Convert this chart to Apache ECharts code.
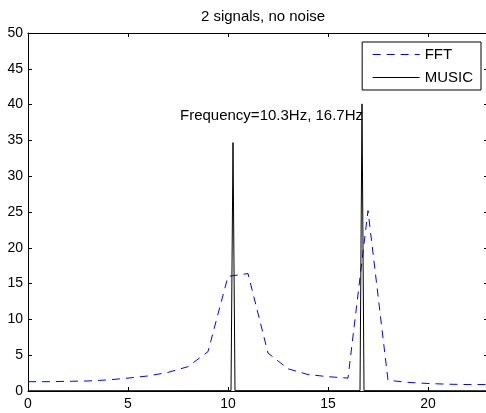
<!DOCTYPE html>
<html>
<head>
<meta charset="utf-8">
<script src="https://cdn.jsdelivr.net/npm/echarts@6/dist/echarts.min.js"></script>
<style>
html,body{margin:0;padding:0;background:#fff;}
#chart{width:486px;height:413px;}
</style>
</head>
<body>
<div id="chart"></div>
<script>
// FFT magnitude, sampled every 1 Hz
var fftFreq = [0,1,2,3,4,5,6,7,8,9,10,11,12,13,14,15,16,17,18,19,20,21,22,23];
var fftMag  = [1.3,1.3,1.35,1.4,1.55,1.8,2.1,2.6,3.4,5.5,16.0,16.4,5.3,3.1,2.3,2.0,1.8,25.2,1.5,1.2,1.05,0.95,0.9,0.9];

// MUSIC pseudospectrum (flat near zero except two sharp peaks)
var musicFreq = [0,10.15,10.25,10.35,16.6,16.7,16.8,23];
var musicPow  = [0.03,0.05,34.7,0.05,0.05,40.1,0.05,0.03];

var xTicks = [0,5,10,15,20];
var yTicks = [0,5,10,15,20,25,30,35,40,45,50];

var titleText = '2 signals, no noise';
var noteText = 'Frequency=10.3Hz, 16.7Hz';
var notePos = [7.6, 38.45];

var fftData = [];
for (var i = 0; i < fftFreq.length; i++) {
    fftData.push([fftFreq[i], fftMag[i]]);
}
var musicData = [];
for (var j = 0; j < musicFreq.length; j++) {
    musicData.push([musicFreq[j], musicPow[j]]);
}

var font = 'Liberation Sans, Arial, sans-serif';
var myChart = echarts.init(document.getElementById('chart'));

function boxAxis(extra) {
    return Object.assign({
        axisLine: {show: true, onZero: false, lineStyle: {color: '#000', width: 1}},
        axisTick: {show: true, inside: true, length: 4, lineStyle: {color: '#000'}},
        splitLine: {show: false}
    }, extra);
}

option = {
    animation: false,
    backgroundColor: '#fff',
    title: {
        text: titleText,
        left: 258,
        top: 4,
        textAlign: 'center',
        textStyle: {fontFamily: font, fontSize: 15, fontWeight: 'normal', color: '#000'}
    },
    grid: {left: 28, right: -2, top: 33, bottom: 22, containLabel: false, outerBoundsMode: 'none'},
    legend: {
        data: ['FFT', 'MUSIC'],
        orient: 'vertical',
        right: 5,
        top: 42,
        padding: [5, 8, 5, 10],
        itemGap: 8,
        itemWidth: 47,
        itemHeight: 14,
        borderColor: '#000',
        borderWidth: 1,
        borderRadius: 0,
        backgroundColor: '#fff',
        itemStyle: {color: 'rgba(0,0,0,0)', borderColor: 'rgba(0,0,0,0)', borderWidth: 0},
        lineStyle: {width: 1},
        textStyle: {fontFamily: font, fontSize: 15, color: '#000'}
    },
    xAxis: [
        boxAxis({
            type: 'value', min: 0, max: 23, interval: 5, position: 'bottom',
            axisLabel: {show: true, fontFamily: font, fontSize: 14, color: '#000', margin: 6,
                showMaxLabel: false,
                formatter: function (v) { return xTicks.indexOf(v) >= 0 ? v : ''; }}
        }),
        boxAxis({
            type: 'value', min: 0, max: 23, interval: 5, position: 'top',
            axisLabel: {show: false}
        })
    ],
    yAxis: [
        boxAxis({
            type: 'value', min: 0, max: 50, interval: 5, position: 'left',
            axisLabel: {show: true, fontFamily: font, fontSize: 14, color: '#000', margin: 5,
                formatter: function (v) { return yTicks.indexOf(v) >= 0 ? v : ''; }}
        }),
        boxAxis({
            type: 'value', min: 0, max: 50, interval: 5, position: 'right',
            axisLabel: {show: false}
        })
    ],
    series: [
        {
            name: 'FFT',
            type: 'line',
            data: fftData,
            symbol: 'none',
            color: '#0000ff',
            lineStyle: {color: '#0000ff', width: 1, type: [8, 6]},
            z: 2
        },
        {
            name: 'MUSIC',
            type: 'line',
            data: musicData,
            symbol: 'none',
            color: '#000',
            lineStyle: {color: '#000', width: 1, type: 'solid'},
            z: 3
        },
        {
            name: 'note',
            type: 'scatter',
            data: [notePos],
            symbolSize: 0,
            silent: true,
            itemStyle: {opacity: 1},
            label: {
                show: true,
                position: 'right',
                distance: 0,
                formatter: noteText,
                fontFamily: font,
                fontSize: 15,
                color: '#000',
                opacity: 1,
                textBorderWidth: 0
            },
            z: 1
        }
    ]
};
myChart.setOption(option);
</script>
</body>
</html>
